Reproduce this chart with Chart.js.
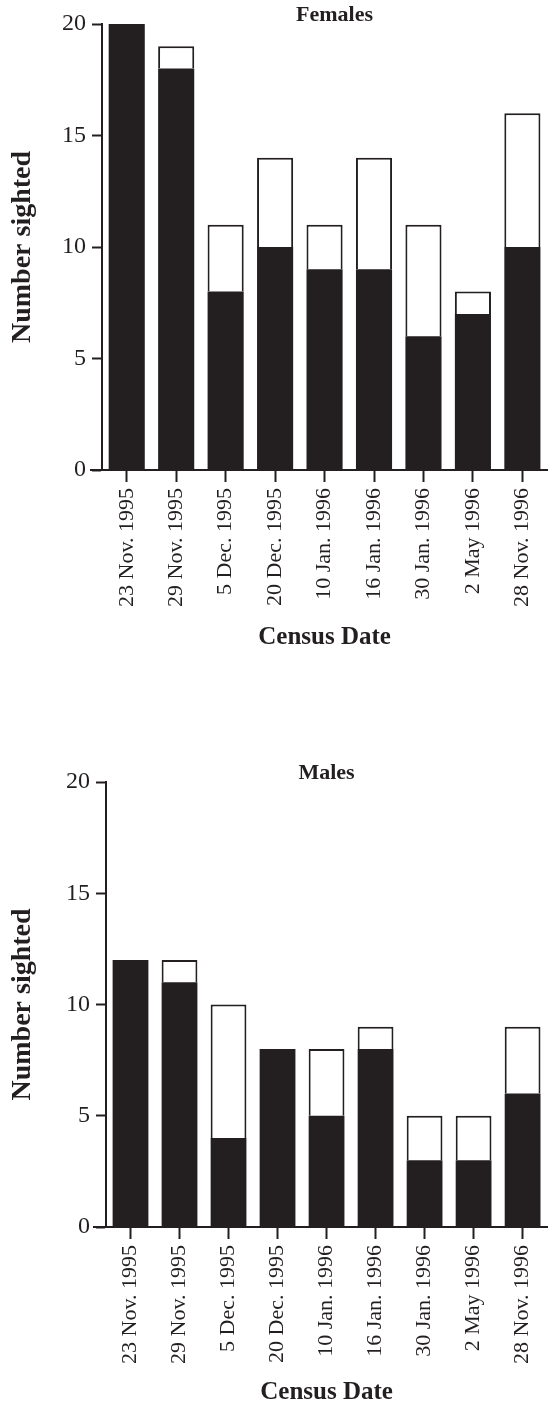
<!DOCTYPE html>
<html>
<head>
<meta charset="utf-8">
<script src="https://cdn.jsdelivr.net/npm/chart.js@4/dist/chart.umd.min.js"></script>
<style>
  html, body { margin: 0; padding: 0; background: #fff; overflow: hidden; }
  canvas { display: block; }
</style>
</head>
<body>
<canvas id="femalesChart" width="555" height="700"></canvas>
<canvas id="malesChart" width="555" height="705"></canvas>
<script>
const censusDates = ['23 Nov. 1995', '29 Nov. 1995', '5 Dec. 1995', '20 Dec. 1995', '10 Jan. 1996',
                     '16 Jan. 1996', '30 Jan. 1996', '2 May 1996', '28 Nov. 1996'];
// black part of each bar, and white part stacked on top
const femalesBlack = [20, 18, 8, 10, 9, 9, 6, 7, 10];
const femalesWhite = [0, 1, 3, 4, 2, 5, 5, 1, 6];
const malesBlack = [12, 11, 4, 8, 5, 8, 3, 3, 6];
const malesWhite = [0, 1, 6, 0, 3, 1, 2, 2, 3];
const yTicks = [0, 5, 10, 15, 20];

const ink = '#231f20';
const serif = "'Liberation Serif', 'Times New Roman', serif";

// title drawn over the top of the plot, plus x axis line running a bit left of the y axis
const extras = {
    id: 'extras',
    afterDraw(chart, args, opts) {
        const { ctx, chartArea } = chart;
        const y0 = chart.scales.y.getPixelForValue(0);
        ctx.save();
        ctx.strokeStyle = ink;
        ctx.lineWidth = 2;
        ctx.beginPath();
        ctx.moveTo(chartArea.left - opts.axisExtend, y0);
        ctx.lineTo(chartArea.right, y0);
        ctx.stroke();
        ctx.fillStyle = ink;
        ctx.font = 'bold 22px ' + serif;
        ctx.textAlign = 'center';
        ctx.textBaseline = 'middle';
        ctx.fillText(opts.text, (chartArea.left + chartArea.right) / 2 + opts.shift, opts.y);
        ctx.restore();
    }
};

function makeChart(id, black, white, cfg) {
    const ctx = document.getElementById(id).getContext('2d');
    return new Chart(ctx, {
        type: 'bar',
        data: {
            labels: censusDates,
            datasets: [{
                data: black,
                backgroundColor: ink,
                borderWidth: 0
            }, {
                data: white,
                backgroundColor: '#ffffff',
                borderColor: ink,
                borderWidth: 2
            }]
        },
        options: {
            responsive: false,
            animation: false,
            categoryPercentage: 1,
            barPercentage: 0.73,
            layout: { padding: { top: cfg.top, left: 0, right: cfg.right, bottom: 0 } },
            plugins: {
                legend: { display: false },
                tooltip: { enabled: false },
                extras: { text: cfg.title, y: cfg.titleY, shift: cfg.shift, axisExtend: cfg.axisExtend }
            },
            scales: {
                x: {
                    stacked: true,
                    grid: { display: true, drawOnChartArea: false, offset: false, tickLength: 12, tickWidth: 2, color: ink },
                    border: { display: true, color: ink, width: 2 },
                    ticks: { color: ink, font: { family: serif, size: 22 }, minRotation: 90, maxRotation: 90, padding: 6 },
                    title: { display: true, text: 'Census Date', color: ink, font: { family: serif, size: 25, weight: 'bold' }, padding: { top: 0, bottom: cfg.xTitlePad } },
                    afterFit(scale) { scale.height = cfg.xHeight; }
                },
                y: {
                    stacked: true,
                    min: 0,
                    max: 20,
                    afterBuildTicks(scale) { scale.ticks = yTicks.map(v => ({ value: v })); },
                    grid: { display: true, drawOnChartArea: false, tickLength: 10, tickWidth: 2, color: ink },
                    border: { display: true, color: ink, width: 2 },
                    ticks: { color: ink, font: { family: serif, size: 24 }, padding: 6 },
                    title: { display: true, text: 'Number sighted', color: ink, font: { family: serif, size: 28, weight: 'bold' }, padding: { top: 6, bottom: 0 } },
                    afterFit(scale) { scale.width = cfg.yWidth; }
                }
            }
        },
        plugins: [extras]
    });
}

makeChart('femalesChart', femalesBlack, femalesWhite, {
    title: 'Females', titleY: 15, shift: 10, top: 24, right: 4,
    yWidth: 102, xHeight: 230, xTitlePad: 47, axisExtend: 12
});
makeChart('malesChart', malesBlack, malesWhite, {
    title: 'Males', titleY: 73, shift: 0, top: 82, right: 0,
    yWidth: 106, xHeight: 178, xTitlePad: -3, axisExtend: 13
});
</script>
</body>
</html>
